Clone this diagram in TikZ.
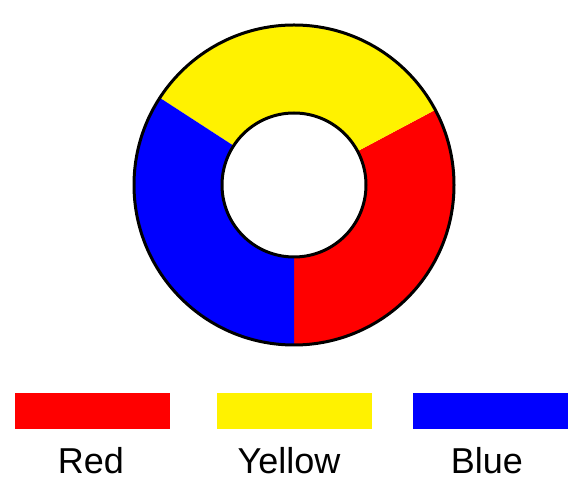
\documentclass[tikz,border=0pt]{standalone}
\usepackage{fontspec}
\setmainfont{Liberation Sans}
\begin{document}
\begin{tikzpicture}[x=1pt,y=1pt]
\useasboundingbox (0,0) rectangle (573,487);
\coordinate (c) at (294,302);
% ring
\fill[red] ([shift={(-90:160)}]c) arc[start angle=-90,end angle=28,radius=160]
  -- ([shift={(28:72)}]c) arc[start angle=28,end angle=-90,radius=72] -- cycle;
\fill[yellow] ([shift={(28:160)}]c) arc[start angle=28,end angle=147,radius=160]
  -- ([shift={(147:72)}]c) arc[start angle=147,end angle=28,radius=72] -- cycle;
\fill[blue] ([shift={(147:160)}]c) arc[start angle=147,end angle=270,radius=160]
  -- ([shift={(270:72)}]c) arc[start angle=270,end angle=147,radius=72] -- cycle;
\draw[line width=3pt] (c) circle[radius=160];
\draw[line width=3pt] (c) circle[radius=72];
% legend
\node[fill=red, minimum width=155pt, minimum height=36pt, inner sep=0pt] (rbox) at (92.5,76) {};
\node[fill=yellow, minimum width=155pt, minimum height=36pt, inner sep=0pt] (ybox) at (294.5,76) {};
\node[fill=blue, minimum width=155pt, minimum height=36pt, inner sep=0pt] (bbox) at (490.5,76) {};
\node[anchor=base, font=\fontsize{36}{40}\selectfont] (rlab) at (91,13) {Red};
\node[anchor=base, font=\fontsize{36}{40}\selectfont] (ylab) at (289,13) {Yellow};
\node[anchor=base, font=\fontsize{36}{40}\selectfont] (blab) at (487,13) {Blue};
\end{tikzpicture}
\end{document}
